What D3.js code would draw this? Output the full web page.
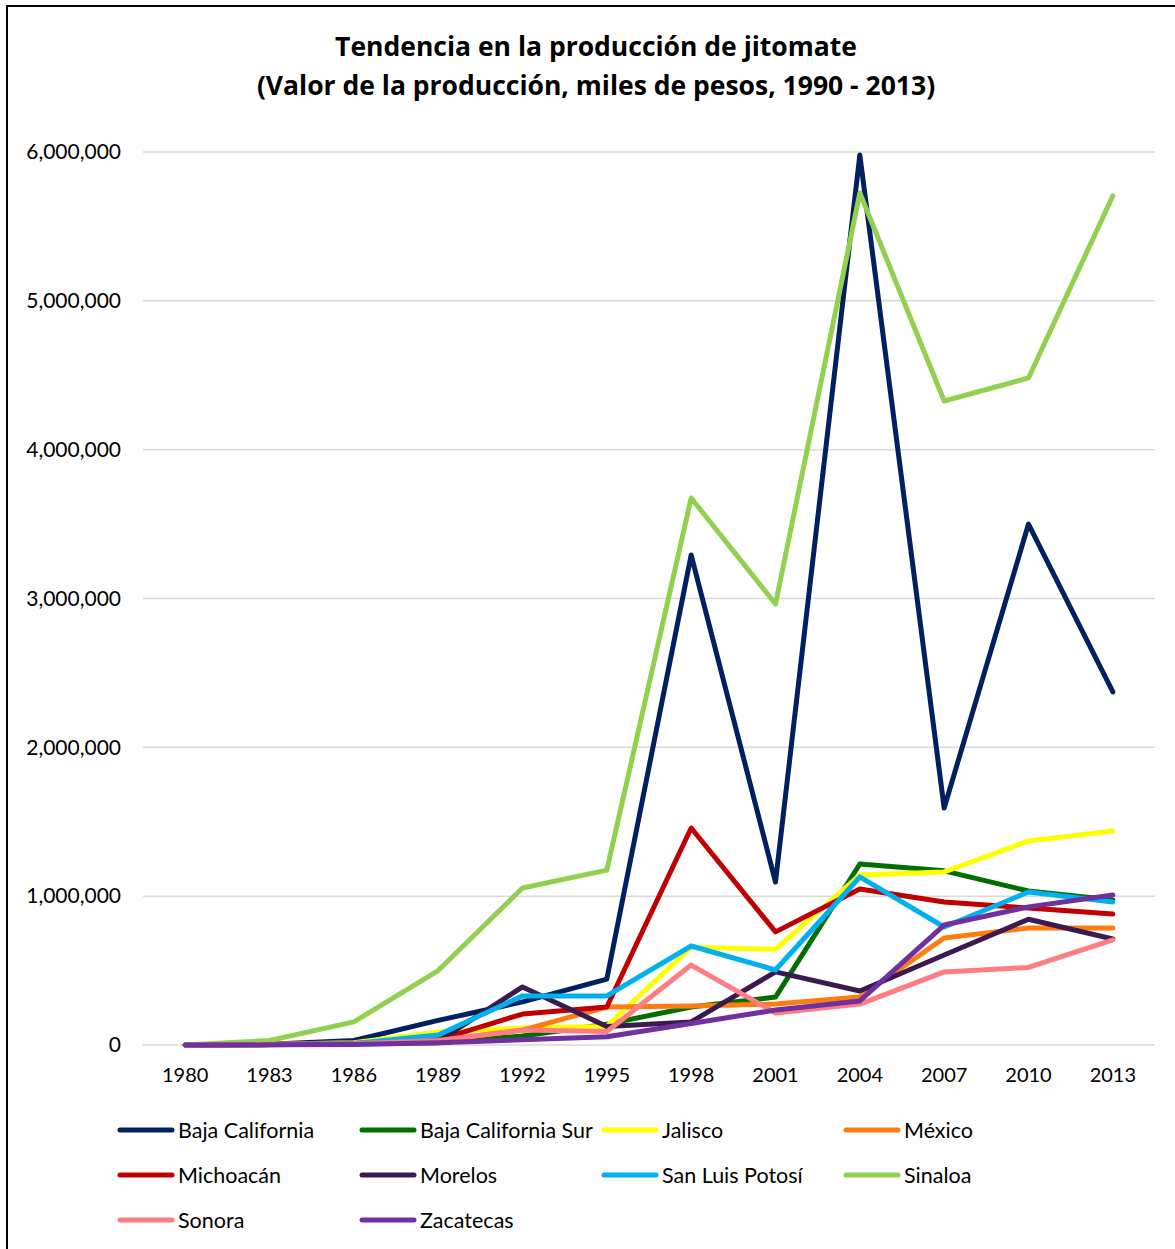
<!DOCTYPE html>
<html><head><meta charset="utf-8">
<script src="https://cdn.jsdelivr.net/npm/d3@7"></script>
<style>body{margin:0;background:#fff;} svg{display:block;} text{font-family:Lato, "Open Sans", sans-serif;}</style>
</head><body>
<svg id="c" width="1175" height="1249"></svg>
<script>
const years = ["1980","1983","1986","1989","1992","1995","1998","2001","2004","2007","2010","2013"];
const yTicks = [0,1000000,2000000,3000000,4000000,5000000,6000000];
const seriesNames = ["Baja California","Baja California Sur","Jalisco","México","Michoacán","Morelos","San Luis Potosí","Sinaloa","Sonora","Zacatecas"];
const seriesColors = ["#002060","#006E00","#FFFF00","#FF7C10","#C00000","#3B1A50","#00B0F0","#92D050","#FF7C80","#7030A0"];
const bajaCalifornia = [0,5000,30000,165000,290000,443000,3292000,1095000,5980000,1592000,3500000,2372000];
const bajaCaliforniaSur = [0,2000,8000,15000,60000,140000,255000,322000,1216000,1170000,1035000,974000];
const jalisco = [0,5000,15000,87000,114000,125000,657000,643000,1142000,1163000,1371000,1438000];
const mexico = [0,3000,10000,30000,100000,255000,262000,275000,322000,719000,786000,786000];
const michoacan = [0,5000,10000,35000,208000,255000,1458000,760000,1048000,961000,920000,880000];
const morelos = [0,3000,8000,25000,390000,125000,155000,491000,363000,605000,845000,712000];
const sanLuisPotosi = [0,3000,10000,67000,330000,330000,665000,504000,1129000,793000,1028000,961000];
const sinaloa = [0,30000,155000,500000,1055000,1175000,3675000,2963000,5725000,4327000,4482000,5705000];
const sonora = [0,3000,8000,30000,101000,90000,537000,215000,275000,491000,521000,706000];
const zacatecas = [0,1000,3000,15000,35000,55000,145000,235000,296000,806000,928000,1008000];
const seriesValues = [bajaCalifornia,bajaCaliforniaSur,jalisco,mexico,michoacan,morelos,sanLuisPotosi,sinaloa,sonora,zacatecas];

(function(){
const svg = d3.select("#c");
svg.append("path").attr("d","M7,1260 L7,6 L1190,6").attr("fill","none").attr("stroke","#000").attr("stroke-width",2);

const pL = 143, pR = 1155, pT = 152, pB = 1045;
const x = d3.scaleBand().domain(years).range([pL,pR]);
const y = d3.scaleLinear().domain([0,6000000]).range([pB,pT]);

const title = svg.append("text").attr("x",596).attr("text-anchor","middle").attr("font-weight","bold")
  .attr("font-size",26.5).attr("fill","#000").style("font-family","'Open Sans', sans-serif");
title.append("tspan").attr("x",596).attr("y",56).text("Tendencia en la producción de jitomate");
title.append("tspan").attr("x",596).attr("y",95).text("(Valor de la producción, miles de pesos, 1990 - 2013)");

svg.append("g").selectAll("line").data(yTicks).join("line")
  .attr("x1",pL).attr("x2",pR).attr("y1",d=>y(d)).attr("y2",d=>y(d))
  .attr("stroke","#D9D9D9").attr("stroke-width",1.5);

const yAxis = d3.axisLeft(y).tickValues(yTicks).tickSize(0).tickPadding(0)
  .tickFormat(d=> d===0 ? "0" : d3.format(",")(d));
const gy = svg.append("g").attr("transform","translate(121,0)").call(yAxis);
gy.select(".domain").remove();
gy.selectAll("text").attr("font-size",21).attr("fill","#000").attr("font-family","Lato, 'Open Sans', sans-serif");

const xAxis = d3.axisBottom(x).tickSize(0).tickPadding(0);
const gx = svg.append("g").attr("transform",`translate(0,${pB+23})`).call(xAxis);
gx.select(".domain").remove();
gx.selectAll("text").attr("font-size",20).attr("fill","#000").attr("font-family","Lato, 'Open Sans', sans-serif");

const line = d3.line().x((d,i)=>x(years[i])+x.bandwidth()/2).y(d=>y(d));
svg.append("g").selectAll("path").data(seriesValues).join("path")
  .attr("d",d=>line(d)).attr("fill","none")
  .attr("stroke",(d,i)=>seriesColors[i]).attr("stroke-width",5)
  .attr("stroke-linejoin","round").attr("stroke-linecap","round");

const lg = svg.append("g");
seriesNames.forEach((n,i)=>{
  const col = i%4, row = Math.floor(i/4);
  const lx = 120 + col*242, ly = 1130 + row*45;
  lg.append("line").attr("x1",lx).attr("x2",lx+52).attr("y1",ly).attr("y2",ly)
    .attr("stroke",seriesColors[i]).attr("stroke-width",5).attr("stroke-linecap","round");
  lg.append("text").attr("x",lx+58).attr("y",ly+7.5).attr("font-size",21.5).attr("fill","#000").text(n);
});
})();
</script>
</body></html>
